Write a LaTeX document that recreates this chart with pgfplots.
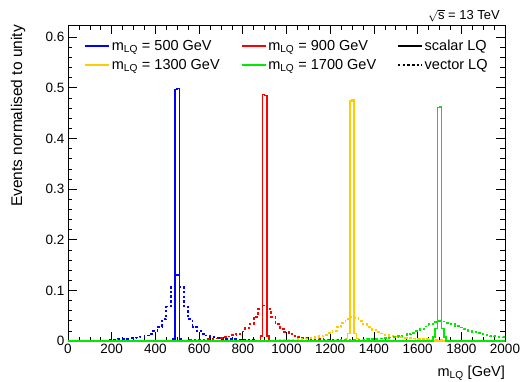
\documentclass[border=0pt]{standalone}
\usepackage{fontspec}
\setmainfont{Liberation Sans}
\usepackage{pgfplots}
\pgfplotsset{compat=1.18}
\definecolor{cblue}{RGB}{0,0,255}
\definecolor{cred}{RGB}{255,0,0}
\definecolor{cyel}{RGB}{255,204,0}
\definecolor{cgreen}{RGB}{0,235,0}
\newcommand{\fs}{\fontsize{13.5}{16}\selectfont}
\newcommand{\fl}{\fontsize{14.5}{17}\selectfont}
\tikzset{vec/.style={line width=1.7pt, dash pattern=on 2.5pt off 2.2pt}, sca/.style={line width=1.5pt}}
\begin{document}
\begin{tikzpicture}
\begin{axis}[
  name=ax,
  scale only axis,
  width=437pt, height=316pt,
  xmin=0, xmax=2000, ymin=0, ymax=0.624,
  clip=false,
  axis line style={line width=0.8pt},
  tick align=inside,
  xtick={0,200,...,2000},
  ytick={0,0.1,...,0.6},
  minor x tick num=3,
  minor y tick num=4,
  major tick length=9pt,
  minor tick length=4.5pt,
  tick style={black, line width=0.6pt},
  /pgf/number format/assume math mode=true,
  /pgf/number format/1000 sep={},
  scaled ticks=false,
  ticklabel style={font=\fs},
  yticklabel style={/pgf/number format/fixed},
  xlabel={m\textsubscript{LQ} [GeV]},
  xlabel style={font=\fl, at={(axis description cs:1,-0.113)}, anchor=base east, inner sep=0pt},
  ylabel={Events normalised to unity},
  ylabel style={font=\fontsize{15.5}{18}\selectfont, at={(axis description cs:-0.114,1)}, anchor=east, inner sep=0pt},
  legend columns=3,
  legend cell align=left,
  legend style={at={(axis description cs:0.03,0.966)}, anchor=north west, draw=none, fill=none, font=\fl,
    /tikz/every even column/.append style={column sep=19pt}, row sep=3pt},
  legend image code/.code={\draw (0pt,0pt) -- (24pt,0pt);},
]
% vector (dashed)
\addplot[color=cblue, vec, const plot, forget plot] coordinates {
(0,0) (190,0.0025) (210,0.0030) (230,0.0034) (250,0.0039) (270,0.0046) (290,0.0055) (310,0.0067) (330,0.0084) (350,0.0107) (370,0.0142) (390,0.0195) (410,0.0281) (430,0.0428) (450,0.068) (470,0.106)
(490,0.130) (510,0.106) (530,0.068) (550,0.0428) (570,0.0281) (590,0.0195) (610,0.0142) (630,0.0107) (650,0.0084) (670,0.0067) (690,0.0055) (710,0.0046) (730,0.0039) (750,0.0034) (770,0.0030) (790,0.0025) (810,0.0022) (830,0.0020) (850,0) (2000,0)};
\addplot[color=cblue, sca, const plot, forget plot] coordinates {
(0,0) (480,0.004) (490,0.497) (500,0.499) (510,0.004) (520,0) (2000,0)};
\addplot[color=cred, vec, const plot, forget plot] coordinates {
(0,0) (550,0.0022) (570,0.0025) (590,0.0028) (610,0.0032) (630,0.0037) (650,0.0043) (670,0.0050) (690,0.0060) (710,0.0073) (730,0.0090) (750,0.0112) (770,0.0145) (790,0.0190) (810,0.0250) (830,0.0340) (850,0.0474) (870,0.0626)
(890,0.070) (910,0.0626) (930,0.0474) (950,0.0338) (970,0.0241) (990,0.0176) (1010,0.0133) (1030,0.0102) (1050,0.0081) (1070,0.0066) (1090,0.0054) (1110,0.0046) (1130,0.0039) (1150,0.0033) (1170,0.0029) (1190,0.0025) (1210,0.0022) (1230,0.0020) (1250,0) (2000,0)};
\addplot[color=cred, sca, const plot, forget plot] coordinates {
(0,0) (880,0.010) (890,0.487) (900,0.485) (910,0.010) (920,0) (2000,0)};
\addplot[color=cyel, vec, const plot, forget plot] coordinates {
(0,0) (970,0.0021) (990,0.0024) (1010,0.0028) (1030,0.0032) (1050,0.0037) (1070,0.0043) (1090,0.0051) (1110,0.0062) (1130,0.0076) (1150,0.0094) (1170,0.0119) (1190,0.0155) (1210,0.0204) (1230,0.0271) (1250,0.0354) (1270,0.0435)
(1290,0.047) (1310,0.0450) (1330,0.0399) (1350,0.0336) (1370,0.0275) (1390,0.0223) (1410,0.0181) (1430,0.0148) (1450,0.0122) (1470,0.0102) (1490,0.0087) (1510,0.0074) (1530,0.0064) (1550,0.0056) (1570,0.0049) (1590,0.0043) (1610,0.0038) (1630,0.0034) (1650,0.0031) (1670,0.0028) (1690,0.0025) (1710,0.0022) (1730,0) (2000,0)};
\addplot[color=cyel, sca, const plot, forget plot] coordinates {
(0,0) (1270,0.005) (1280,0.015) (1290,0.474) (1300,0.476) (1310,0.015) (1320,0.005) (1330,0) (2000,0)};
\addplot[color=cgreen, vec, const plot, forget plot] coordinates {
(0,0) (1250,0.0018) (1270,0.0020) (1290,0.0022) (1310,0.0025) (1330,0.0028) (1350,0.0031) (1370,0.0035) (1390,0.0039) (1410,0.0044) (1430,0.0051) (1450,0.0058) (1470,0.0067) (1490,0.0078) (1510,0.0092) (1530,0.0110) (1550,0.0132) (1570,0.0160) (1590,0.0195) (1610,0.0238) (1630,0.0287) (1650,0.0336) (1670,0.0375)
(1690,0.039) (1710,0.0383) (1730,0.0362) (1750,0.0333) (1770,0.0299) (1790,0.0264) (1810,0.0231) (1830,0.0202) (1850,0.0176) (1870,0.0153) (1890,0.0134) (1910,0.0118) (1930,0.0104) (1950,0.0092) (1970,0.0082) (1990,0.0074) (2000,0.0074)};
\addplot[color=cgreen, sca, const plot, forget plot] coordinates {
(0,0) (1670,0.008) (1680,0.025) (1690,0.461) (1700,0.462) (1710,0.025) (1720,0.008) (1730,0) (2000,0)};
% legend
\addlegendimage{color=cblue, sca}
\addlegendentry{m\textsubscript{LQ} = 500 GeV}
\addlegendimage{color=cred, sca}
\addlegendentry{m\textsubscript{LQ} = 900 GeV}
\addlegendimage{color=black, sca}
\addlegendentry{scalar LQ}
\addlegendimage{color=cyel, sca}
\addlegendentry{m\textsubscript{LQ} = 1300 GeV}
\addlegendimage{color=cgreen, sca}
\addlegendentry{m\textsubscript{LQ} = 1700 GeV}
\addlegendimage{color=black, line width=1.5pt, dash pattern=on 2.5pt off 2.2pt}
\addlegendentry{vector LQ}
\end{axis}
\node[anchor=base east, font=\fontsize{13}{15}\selectfont, inner sep=0pt] at ([xshift=-5pt,yshift=5pt]ax.north east) {$\sqrt{\mbox{s}}$ = 13 TeV};
\pgfresetboundingbox
\path ([shift={(-68pt,-40pt)}]ax.south west) rectangle ([shift={(18pt,25pt)}]ax.north east);
\end{tikzpicture}
\end{document}
